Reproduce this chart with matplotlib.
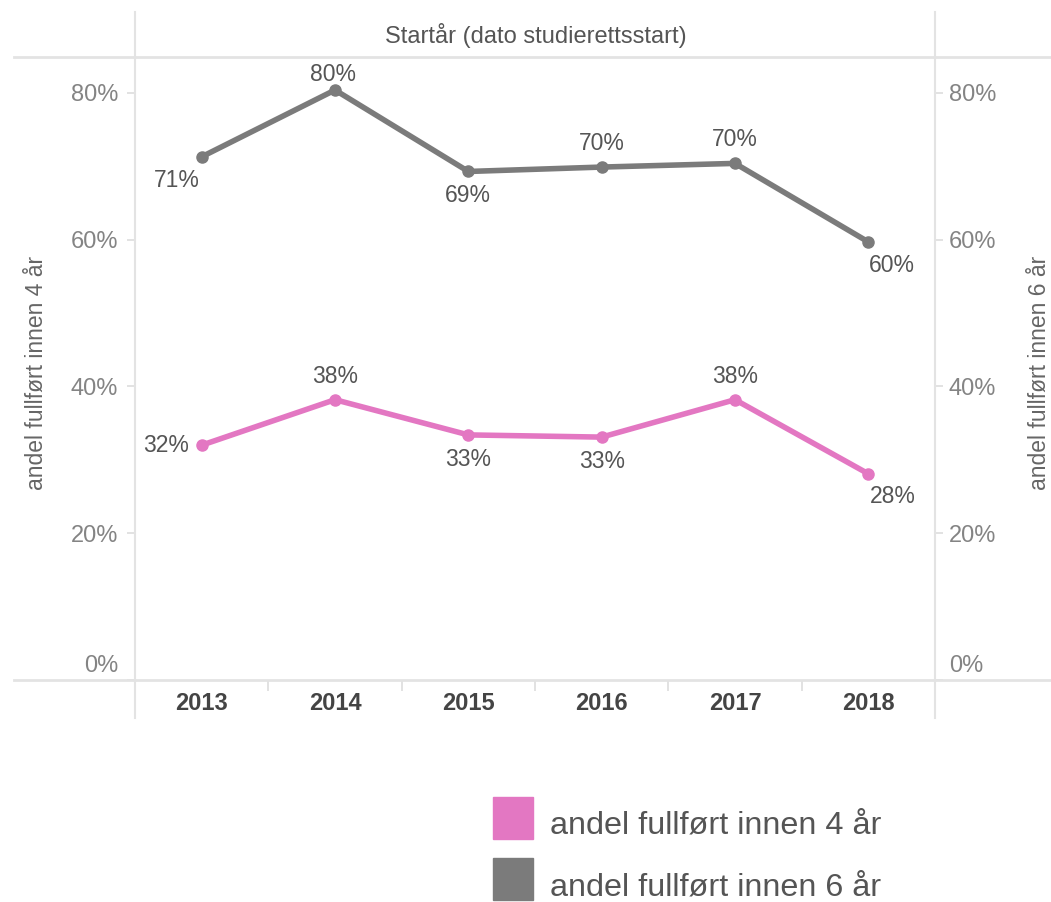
import matplotlib
matplotlib.use("Agg")
import matplotlib.pyplot as plt
from matplotlib.lines import Line2D
from matplotlib.patches import Rectangle
from matplotlib.transforms import ScaledTranslation

plt.rcParams['font.family'] = ['Liberation Sans', 'DejaVu Sans']

# data
years = ['2013', '2014', '2015', '2016', '2017', '2018']
within_4 = [32.0, 38.2, 33.4, 33.1, 38.2, 28.1]
within_6 = [71.3, 80.4, 69.3, 69.9, 70.4, 59.7]
labels_4 = ['32%', '38%', '33%', '33%', '38%', '28%']
labels_6 = ['71%', '80%', '69%', '70%', '70%', '60%']

pink = '#e377c2'
grey = '#7b7b7b'

fig = plt.figure(figsize=(10.51, 9.02), dpi=100)
ax = fig.add_axes([135 / 1051, 1 - 680 / 902, 800 / 1051, 623 / 902])
x = list(range(len(years)))

ax.plot(x, within_6, color=grey, lw=4, marker='o', ms=8, solid_capstyle='round', zorder=3)
ax.plot(x, within_4, color=pink, lw=4, marker='o', ms=8, solid_capstyle='round', zorder=3)

# label offsets (pixels)
off_6 = [(-25, -24), (-2, 16), (0, -24), (0, 24), (0, 24), (24, -24)]
off_4 = [(-36, 0), (0, 23), (0, -25), (0, -24), (0, 23), (24, -23)]
for i in x:
    ax.annotate(labels_6[i], (i, within_6[i]), xytext=off_6[i], textcoords='offset pixels',
                ha='center', va='center', fontsize=16.5, color='#555555')
    ax.annotate(labels_4[i], (i, within_4[i]), xytext=off_4[i], textcoords='offset pixels',
                ha='center', va='center', fontsize=16.5, color='#555555')

ax.set_xlim(-0.5, 5.5)
ax.set_ylim(0, 84.9)
ax.set_xticks(x)
ax.set_xticklabels(years, fontsize=17, fontweight='bold', color='#444444')
ax.set_xticks([0.5, 1.5, 2.5, 3.5, 4.5], minor=True)
ax.tick_params(axis='x', which='major', length=0, pad=9)
ax.tick_params(axis='x', which='minor', length=8, color='#dddddd', width=1.2)

yt = [0, 20, 40, 60, 80]
ax.set_yticks(yt)
ax.set_yticklabels([f'{v}%' for v in yt], fontsize=17, color='#848484')
ax.tick_params(axis='y', length=6, color='#dddddd', width=1.2, pad=6)
for lab in ax.get_yticklabels():
    if lab.get_text() == '0%':
        lab.set_transform(lab.get_transform() + ScaledTranslation(0, 0.16, fig.dpi_scale_trans))

ax2 = ax.twinx()
ax2.set_ylim(ax.get_ylim())
ax2.set_yticks(yt)
ax2.set_yticklabels([f'{v}%' for v in yt], fontsize=17, color='#848484')
ax2.tick_params(axis='y', length=6, color='#dddddd', width=1.2, pad=4)
for lab in ax2.get_yticklabels():
    if lab.get_text() == '0%':
        lab.set_transform(lab.get_transform() + ScaledTranslation(0, 0.16, fig.dpi_scale_trans))

for a in (ax, ax2):
    for s in a.spines.values():
        s.set_visible(False)

# frame lines
lc = '#e3e3e3'
fig.add_artist(Line2D([14 / 1051, 1], [1 - 57 / 902] * 2, color=lc, lw=2))
fig.add_artist(Line2D([14 / 1051, 1], [1 - 680 / 902] * 2, color=lc, lw=2))
fig.add_artist(Line2D([135 / 1051] * 2, [1 - 12 / 902, 1 - 718 / 902], color=lc, lw=1.5))
fig.add_artist(Line2D([935 / 1051] * 2, [1 - 12 / 902, 1 - 718 / 902], color=lc, lw=1.5))

fig.text(536 / 1051, 1 - 35 / 902, 'Startår (dato studierettsstart)', ha='center', va='center',
         fontsize=17, color='#555555')
fig.text(37 / 1051, 1 - 373 / 902, 'andel fullført innen 4 år', rotation=90, ha='center', va='center',
         fontsize=16.5, color='#666666')
fig.text(1040 / 1051, 1 - 373 / 902, 'andel fullført innen 6 år', rotation=90, ha='center', va='center',
         fontsize=16.5, color='#666666')

# legend
for yc, col, txt in [(818, pink, 'andel fullført innen 4 år'), (879, grey, 'andel fullført innen 6 år')]:
    fig.add_artist(Rectangle((493 / 1051, 1 - (yc + 21) / 902), 40 / 1051, 42 / 902,
                             color=col, transform=fig.transFigure))
    fig.text(550 / 1051, 1 - (yc + 8) / 902, txt, ha='left', va='center', fontsize=23.3, color='#555555')

fig.savefig('out.png', dpi=100)
